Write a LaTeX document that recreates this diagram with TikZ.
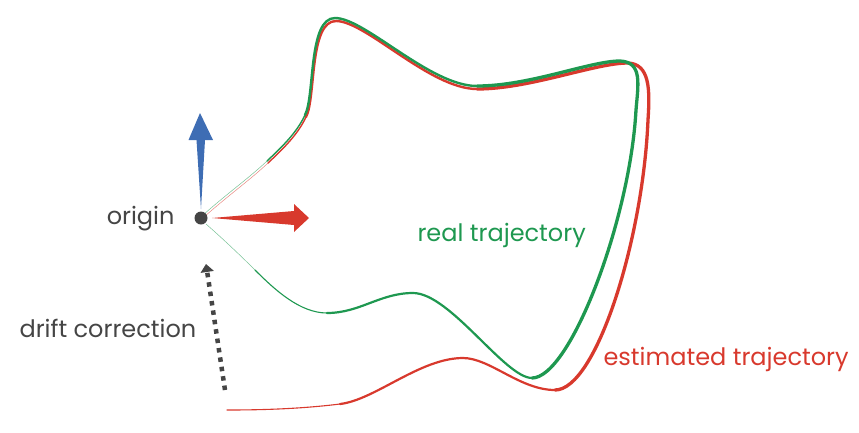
\documentclass[tikz,border=0pt]{standalone}
\usepackage{fontspec}
\setmainfont{Poppins}
\usetikzlibrary{arrows.meta}

\definecolor{realgreen}{HTML}{1E9850}
\definecolor{estred}{HTML}{D8392D}
\definecolor{axisblue}{HTML}{3E6DB4}
\definecolor{darkgray}{HTML}{454545}

\tikzset{
  label/.style={font=\fontsize{24}{28}\selectfont},
  real/.style={realgreen, line cap=round},
  est/.style={estred, line cap=round},
}

\begin{document}
\begin{tikzpicture}[x=1pt, y=-1pt]
    \useasboundingbox (0,0) rectangle (859,432);
    % estimated trajectory
    \draw[est, line width=0.5pt, opacity=0.6] (204,217) .. controls (230,194) and (250,180) .. (268,163);
    \draw[est, line width=1.4pt] (268,163) .. controls (285,147) and (298,134) .. (306,117);
    \draw[est, line width=2.4pt] (306,117) .. controls (316,98) and (309,21) .. (336,21)
        .. controls (366,21) and (430,89) .. (477,89);
    \draw[est, line width=3.3pt] (477,89) .. controls (530,89) and (595,63) .. (628,63)
        .. controls (650,64) and (650,90) .. (648,120)
        .. controls (643,240) and (596,390) .. (555,390);
    \draw[est, line width=2.2pt] (555,390) .. controls (520,390) and (490,358) .. (463,358)
        .. controls (420,358) and (375,400) .. (340,404);
    \draw[est, line width=1.1pt] (340,404) .. controls (300,409) and (260,410) .. (227,410);
    % real trajectory
    \draw[real, line width=0.5pt, opacity=0.6] (203,215) .. controls (229,192) and (249,178) .. (267,161);
    \draw[real, line width=1.4pt] (267,161) .. controls (284,145) and (297,132) .. (305,115);
    \draw[real, line width=2.4pt] (305,115) .. controls (315,96) and (308,18) .. (335,18)
        .. controls (365,18) and (430,86) .. (477,86);
    \draw[real, line width=3.3pt] (477,86) .. controls (530,86) and (590,61) .. (620,61)
        .. controls (643,62) and (638,85) .. (636,110)
        .. controls (630,220) and (570,378) .. (532,378);
    \draw[real, line width=2.2pt] (532,378) .. controls (505,378) and (450,293) .. (413,293)
        .. controls (380,293) and (360,313) .. (327,313);
    \draw[real, line width=1.1pt] (327,313) .. controls (300,313) and (275,290) .. (255,270);
    \draw[real, line width=0.5pt, opacity=0.6] (255,270) .. controls (240,255) and (222,238) .. (206,224);
    % origin and axes
    \node[circle, fill=darkgray, inner sep=0pt, minimum size=13pt] (o) at (201,218) {};
    \fill[axisblue] (o.center) ++(0,-9) -- ++(-4.5,-69) -- ++(-8,0) -- (200,113)
        -- (213,140) -- (205,140) -- cycle;
    \fill[estred] (o.center) ++(11,0) -- (294,211) -- (294,204) -- (309,218)
        -- (294,232) -- (294,225) -- cycle;
    % drift correction
    \coordinate (d) at (225,390);
    \draw[darkgray, line width=4.5pt, dash pattern=on 4.5pt off 5pt,
        -{Triangle[length=8pt, width=13pt]}] (d) -- (206,264);
    \node[label, darkgray, anchor=base east] (orig) at (178,224) {origin};
    \node[label, darkgray, anchor=base west] (drift) at (16,337) {drift correction};
    \node[label, realgreen, anchor=base west] (realtxt) at (414,241) {real trajectory};
    \node[label, estred, anchor=base west] (esttxt) at (600,365) {estimated trajectory};
\end{tikzpicture}
\end{document}
